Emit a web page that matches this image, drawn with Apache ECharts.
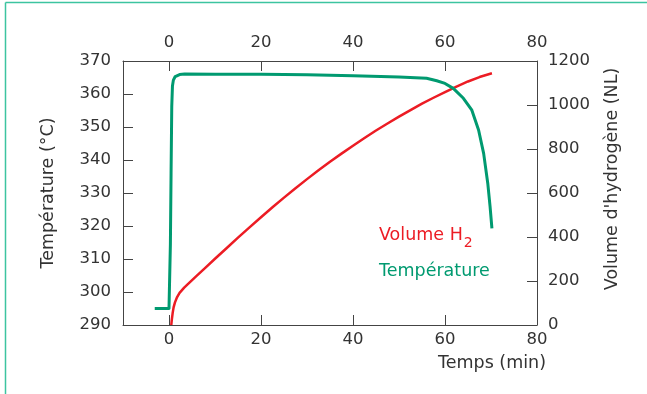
<!DOCTYPE html>
<html>
<head>
<meta charset="utf-8">
<script src="https://cdn.jsdelivr.net/npm/echarts@6/dist/echarts.min.js"></script>
<style>
html,body{margin:0;padding:0;background:#fff;}
#chart{width:647px;height:394px;}
</style>
</head>
<body>
<div id="chart"></div>
<script>
// Temperature (°C) vs time (min)
var timeTemp = [-3.1, 0, 0.3, 0.45, 0.6, 0.75, 0.95, 1.35, 2.3, 3.4, 10, 20, 30, 40, 50, 56, 58.2, 60, 61.8, 64, 65.8, 67.3, 68.4, 69.3, 69.8, 70.2];
var tempValues = [295, 295, 314.3, 336, 356.2, 362.4, 364.2, 365.3, 365.9, 366.05, 366, 365.95, 365.8, 365.5, 365.15, 364.75, 364.0, 363.2, 361.7, 358.7, 355.2, 349.1, 342, 332.9, 325.9, 319.3];
// Hydrogen volume (NL) vs time (min)
var timeVol = [0.5, 0.6, 0.8, 1.0, 1.3, 1.7, 2.3, 3.3, 4.5, 6, 8, 10, 12.5, 15, 17.5, 20, 22.5, 25, 27.5, 30, 32.5, 35, 37.5, 40, 42.5, 45, 47.5, 50, 52.5, 55, 57.5, 60, 62.5, 65, 67.5, 70.2];
var volValues = [0, 22, 55, 80, 103, 124, 146, 170, 194, 223, 262, 301, 349, 397, 444, 490, 535, 579, 622, 663, 703, 742, 779, 815, 850, 884, 916, 947, 977, 1006, 1033, 1059, 1084, 1107, 1127, 1144];
// Tick values
var timeTicks = [0, 20, 40, 60, 80];
var seriesNames = ['Volume H2', 'Température'];

var RED = '#ec1c24', GREEN = '#009a70', AXIS = '#444444', TXT = '#333333';
var FONT = 'DejaVu Sans';

function zip(a, b) { return a.map(function (v, i) { return [v, b[i]]; }); }
function plain(v) { return String(v); }

var chart = echarts.init(document.getElementById('chart'));
var tickLabel = { fontFamily: FONT, fontSize: 16.5, color: TXT, formatter: plain };
var xCommon = {
  type: 'value', min: -10, max: 80,
  axisLine: { show: true, onZero: false, lineStyle: { color: AXIS, width: 1 } },
  axisTick: { show: true, inside: true, length: 10, customValues: timeTicks, lineStyle: { color: AXIS } },
  splitLine: { show: false }
};
var yLine = { show: true, onZero: false, lineStyle: { color: AXIS, width: 1 } };
chart.setOption({
  animation: false,
  backgroundColor: '#fff',
  grid: { left: 123, right: 110, top: 61, bottom: 69, containLabel: false },
  xAxis: [
    Object.assign({}, xCommon, {
      position: 'bottom',
      axisLabel: Object.assign({ margin: 6, customValues: timeTicks }, tickLabel),
      name: 'Temps (min)', nameLocation: 'end', nameGap: 9,
      nameTextStyle: { fontFamily: FONT, fontSize: 17.5, color: TXT, align: 'right', verticalAlign: 'top', padding: [29, 0, 0, 0] }
    }),
    Object.assign({}, xCommon, {
      position: 'top',
      axisLabel: Object.assign({ margin: 10, customValues: timeTicks }, tickLabel)
    })
  ],
  yAxis: [
    {
      type: 'value', min: 290, max: 370, interval: 10, position: 'left',
      axisLine: yLine,
      axisTick: { show: true, inside: true, length: 10, lineStyle: { color: AXIS } },
      axisLabel: Object.assign({ margin: 12 }, tickLabel),
      splitLine: { show: false },
      name: 'Température (°C)', nameLocation: 'middle', nameGap: 66, nameRotate: 90,
      nameTextStyle: { fontFamily: FONT, fontSize: 17.5, color: TXT }
    },
    {
      type: 'value', min: 0, max: 1200, interval: 200, position: 'right',
      axisLine: yLine,
      axisTick: { show: true, inside: true, length: 10, lineStyle: { color: AXIS } },
      axisLabel: Object.assign({ margin: 11 }, tickLabel),
      splitLine: { show: false },
      name: "Volume d'hydrogène (NL)", nameLocation: 'middle', nameGap: 66, nameRotate: 90,
      nameTextStyle: { fontFamily: FONT, fontSize: 17.5, color: TXT, padding: [0, 0, 0, 28] }
    }
  ],
  legend: {
    orient: 'vertical', left: 374, top: 226, padding: 0, itemGap: 12,
    itemWidth: 0, itemHeight: 0, icon: 'none', selectedMode: false,
    data: [
      { name: seriesNames[0], textStyle: { color: RED, rich: {
        m: { fontFamily: FONT, fontSize: 17.5, color: RED, lineHeight: 20, verticalAlign: 'top' },
        s: { fontFamily: FONT, fontSize: 14, color: RED, lineHeight: 14, verticalAlign: 'top', padding: [10, 0, 0, 1] }
      } } },
      { name: seriesNames[1], textStyle: { color: GREEN, fontFamily: FONT, fontSize: 17.5 } }
    ],
    formatter: function (n) { return n === 'Volume H2' ? '{m|Volume H}{s|2}' : n; }
  },
  graphic: [
    { type: 'line', shape: { x1: 5.5, y1: 2.5, x2: 647, y2: 2.5 }, style: { stroke: '#3cc4a0', lineWidth: 1.5 }, silent: true },
    { type: 'line', shape: { x1: 5.5, y1: 2.5, x2: 5.5, y2: 394 }, style: { stroke: '#3cc4a0', lineWidth: 1.5 }, silent: true }
  ],
  series: [
    {
      name: seriesNames[0], type: 'line', xAxisIndex: 0, yAxisIndex: 1,
      data: zip(timeVol, volValues), showSymbol: false, smooth: false,
      lineStyle: { color: RED, width: 2.5, join: 'round' }, itemStyle: { color: RED }
    },
    {
      name: seriesNames[1], type: 'line', xAxisIndex: 0, yAxisIndex: 0,
      data: zip(timeTemp, tempValues), showSymbol: false, smooth: false,
      lineStyle: { color: GREEN, width: 3, join: 'round' }, itemStyle: { color: GREEN }
    }
  ]
});
</script>
</body>
</html>
